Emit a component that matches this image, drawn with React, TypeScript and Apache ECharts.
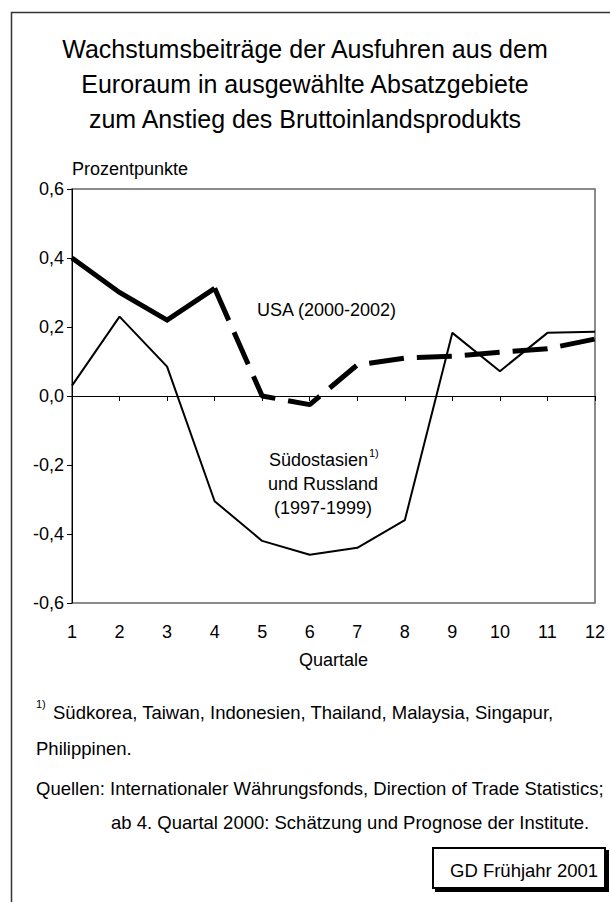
import React, { useEffect, useRef } from "react";
import * as echarts from "echarts";

const quarters = ["1", "2", "3", "4", "5", "6", "7", "8", "9", "10", "11", "12"];
const seaRussia = [0.03, 0.23, 0.085, -0.305, -0.42, -0.46, -0.44, -0.36, 0.183, 0.072, 0.183, 0.186];
const usaActual = [0.4, 0.3, 0.22, 0.312, null, null, null, null, null, null, null, null];
const usaForecast = [null, null, null, 0.312, 0.0, -0.025, 0.09, 0.11, 0.115, 0.127, 0.137, 0.165];
const titleLines = [
  "Wachstumsbeiträge der Ausfuhren aus dem",
  "Euroraum in ausgewählte Absatzgebiete",
  "zum Anstieg des Bruttoinlandsprodukts",
];

const FF = '"Liberation Sans", Arial, sans-serif';
const font = (s: number) => `${s}px ${FF}`;

function txt(text: string, x: number, y: number, size: number, align = "left", vAlign = "middle") {
  return {
    type: "text",
    silent: true,
    style: {
      text,
      x,
      y,
      font: font(size),
      fill: "#000",
      textAlign: align,
      textVerticalAlign: vAlign,
    },
  };
}

export default function App() {
  const ref = useRef<HTMLDivElement>(null);
  useEffect(() => {
    document.body.style.margin = "0";
    const chart = echarts.init(ref.current!, null, { renderer: "svg" });
    chart.setOption({
      animation: false,
      backgroundColor: "#fff",
      grid: {
        left: 72,
        right: 15,
        top: 189,
        bottom: 299,
        show: true,
        borderColor: "#666",
        borderWidth: 1.5,
        backgroundColor: "transparent",
      },
      xAxis: {
        type: "category",
        data: quarters,
        boundaryGap: false,
        axisLine: { lineStyle: { color: "#000", width: 1 } },
        axisTick: { show: true, length: 5, lineStyle: { color: "#000" } },
        axisLabel: { color: "#000", fontSize: 18, fontFamily: FF, margin: 20 },
        splitLine: { show: false },
        name: "Quartale",
        nameLocation: "middle",
        nameGap: 48,
        nameTextStyle: { color: "#000", fontSize: 18, fontFamily: FF },
      },
      yAxis: {
        type: "value",
        min: -0.6,
        max: 0.6,
        interval: 0.2,
        axisLine: { show: true, lineStyle: { color: "#000", width: 1 } },
        axisTick: { show: true, length: 5, lineStyle: { color: "#000" } },
        axisLabel: {
          color: "#000",
          fontSize: 18,
          fontFamily: FF,
          margin: 8,
          formatter: (v: number) => v.toFixed(1).replace(".", ",").replace("-0,0", "0,0"),
        },
        splitLine: { show: false },
      },
      series: [
        {
          type: "line",
          data: seaRussia,
          symbol: "none",
          lineStyle: { color: "#000", width: 2 },
          z: 3,
          markLine: {
            silent: true,
            symbol: "none",
            label: { show: false },
            lineStyle: { color: "#000", width: 1, type: "solid" },
            data: [{ yAxis: 0 }],
          },
        },
        {
          type: "line",
          data: usaActual,
          symbol: "none",
          connectNulls: false,
          lineStyle: { color: "#000", width: 5, join: "miter" },
          z: 4,
        },
        {
          type: "line",
          data: usaForecast,
          symbol: "none",
          connectNulls: false,
          lineStyle: { color: "#000", width: 5, type: [35, 13] },
          z: 4,
        },
      ],
      graphic: [
        {
          type: "rect",
          silent: true,
          z: -1,
          shape: { x: 11.5, y: 12.5, width: 900, height: 1200 },
          style: { fill: "none", stroke: "#333", lineWidth: 1.5 },
        },
        txt(titleLines[0], 305, 48.5, 25, "center"),
        txt(titleLines[1], 305, 83.5, 25, "center"),
        txt(titleLines[2], 305, 118.5, 25, "center"),
        txt("Prozentpunkte", 72, 169, 18),
        txt("USA (2000-2002)", 257, 310, 18),
        txt("Südostasien", 368, 460, 18, "right"),
        txt("1)", 369, 453, 11),
        txt("und Russland", 323, 484, 18, "center"),
        txt("(1997-1999)", 323, 508, 18, "center"),
        txt("1)", 36, 704, 11),
        txt("Südkorea, Taiwan, Indonesien, Thailand, Malaysia, Singapur,", 53, 712, 18.5),
        txt("Philippinen.", 36, 748, 18.5),
        txt("Quellen: Internationaler Währungsfonds, Direction of Trade Statistics;", 36, 788, 18.5),
        txt("ab 4. Quartal 2000: Schätzung und Prognose der Institute.", 111, 822, 18.5),
        {
          type: "rect",
          silent: true,
          shape: { x: 435, y: 850, width: 174, height: 42 },
          style: { fill: "#000", stroke: "none" },
        },
        {
          type: "rect",
          silent: true,
          shape: { x: 433, y: 848, width: 172, height: 40 },
          style: { fill: "#fff", stroke: "#000", lineWidth: 2 },
        },
        txt("GD Frühjahr 2001", 450, 870, 18.5, "left"),
      ],
    });
    return () => chart.dispose();
  }, []);
  return <div ref={ref} style={{ width: 610, height: 902 }} />;
}
